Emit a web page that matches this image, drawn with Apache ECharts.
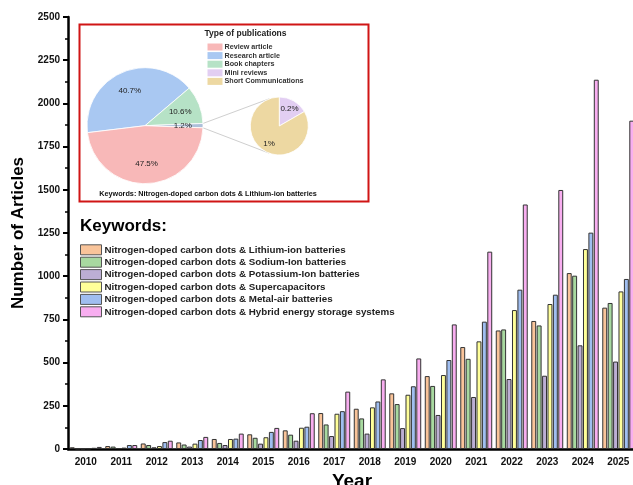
<!DOCTYPE html>
<html>
<head>
<meta charset="utf-8">
<script src="https://cdn.jsdelivr.net/npm/echarts@6/dist/echarts.min.js"></script>
<style>
html,body{margin:0;padding:0;background:#fff;}
#c{width:633px;height:485px;}
</style>
</head>
<body>
<div id="c"></div>
<script>
// ---- Data ----
var years = ['2010','2011','2012','2013','2014','2015','2016','2017','2018','2019','2020','2021','2022','2023','2024','2025'];
var seriesNames = [
  'Nitrogen-doped carbon dots & Lithium-ion batteries',
  'Nitrogen-doped carbon dots & Sodium-Ion batteries',
  'Nitrogen-doped carbon dots & Potassium-Ion batteries',
  'Nitrogen-doped carbon dots & Supercapacitors',
  'Nitrogen-doped carbon dots & Metal-air batteries',
  'Nitrogen-doped carbon dots & Hybrid energy storage systems'
];
var lithium   = [10, 17, 32, 38, 58, 85, 108, 208, 233, 322, 422, 590, 686, 741, 1018, 818];
var sodium    = [2, 14, 23, 26, 35, 65, 83, 142, 177, 260, 365, 522, 692, 715, 1003, 845];
var potassium = [1, 5, 10, 14, 23, 31, 48, 75, 89, 121, 197, 301, 405, 424, 600, 506];
var supercap  = [3, 8, 17, 31, 58, 68, 123, 204, 241, 314, 428, 623, 804, 839, 1157, 912];
var metalAir  = [7, 23, 40, 52, 60, 99, 129, 219, 275, 363, 515, 737, 922, 893, 1252, 984];
var hybrid    = [12, 23, 48, 70, 89, 122, 207, 332, 403, 524, 721, 1142, 1415, 1499, 2137, 1900];
var yTicks = [0, 250, 500, 750, 1000, 1250, 1500, 1750, 2000, 2250, 2500];

var pubTypes = ['Review article', 'Research article', 'Book chapters', 'Mini reviews', 'Short Communications'];
var pubShares = [47.5, 40.7, 10.6, 0.2, 1.0];
var otherShare = 1.2; // Mini reviews + Short Communications

// ---- Styles ----
var barColors = ['#F9C49A', '#A8D9A0', '#BCAED4', '#FFFF99', '#A0BEF0', '#F8AEF0'];
var pieColors = {
  'Review article': '#F8B8B8',
  'Research article': '#A9C8F2',
  'Book chapters': '#B6E2C6',
  'Mini reviews': '#E2CEF2',
  'Short Communications': '#EDD8A2'
};
var otherColor = '#ADC0DA';
var FONT = 'Liberation Sans, Arial, sans-serif';

var barData = [lithium, sodium, potassium, supercap, metalAir, hybrid];
var series = barData.map(function (d, i) {
  return {
    type: 'bar',
    name: seriesNames[i],
    data: d,
    barGap: '10%',
    barCategoryGap: '10%',
    itemStyle: { color: barColors[i], borderColor: '#333', borderWidth: 1 }
  };
});

// Pie layout
var bigC = [145, 125.7], bigR = 58;
var smallC = [279.3, 126], smallR = 29;
var bigStart = 186.9;

function share(n) { return pubShares[pubTypes.indexOf(n)]; }
var bigData = [
  { name: 'Research article', value: share('Research article'), itemStyle: { color: pieColors['Research article'] } },
  { name: 'Book chapters', value: share('Book chapters'), itemStyle: { color: pieColors['Book chapters'] } },
  { name: 'Other', value: otherShare, itemStyle: { color: otherColor } },
  { name: 'Review article', value: share('Review article'), itemStyle: { color: pieColors['Review article'] } }
];
var smallData = [
  { name: 'Mini reviews', value: share('Mini reviews'), itemStyle: { color: pieColors['Mini reviews'] } },
  { name: 'Short Communications', value: share('Short Communications'), itemStyle: { color: pieColors['Short Communications'] } }
];

series.push({
  type: 'pie', name: 'bigPie', center: bigC, radius: [0, bigR], startAngle: bigStart,
  data: bigData, label: { show: false }, labelLine: { show: false },
  itemStyle: { borderColor: '#fff', borderWidth: 0.8 }, silent: true, z: 5
});
series.push({
  type: 'pie', name: 'smallPie', center: smallC, radius: [0, smallR], startAngle: 90,
  data: smallData, label: { show: false }, labelLine: { show: false },
  itemStyle: { borderColor: '#fff', borderWidth: 0.8 }, silent: true, z: 5
});
// label-only pies (labels at 0.6 of radius)
function labelPie(c, r, start, data) {
  return {
    type: 'pie', center: c, radius: [0, r / 0.5 * 0.6], startAngle: start, silent: true, z: 6,
    data: data.map(function (d) { return { name: d.name + ' ', value: d.value }; }),
    itemStyle: { color: 'rgba(0,0,0,0)' },
    label: { show: true, position: 'inside', formatter: '{c}%', fontFamily: FONT, fontSize: 8, color: '#222' },
    labelLine: { show: false }, emphasis: { disabled: true }
  };
}
series.push(labelPie(bigC, bigR, bigStart, bigData));
series.push(labelPie(smallC, smallR, 90, smallData));

// connector lines (tangents from wedge edges to small pie)
var cum = (bigData[0].value + bigData[1].value) / 100 * 360;
var a1 = (bigStart - cum) * Math.PI / 180;
var a2 = (bigStart - cum - otherShare / 100 * 360) * Math.PI / 180;
function tangent(P, sign) {
  var dx = P[0] - smallC[0], dy = P[1] - smallC[1];
  var d = Math.sqrt(dx * dx + dy * dy);
  var base = Math.atan2(dy, dx), off = Math.acos(smallR / d);
  var a = base + sign * off;
  return [smallC[0] + smallR * Math.cos(a), smallC[1] + smallR * Math.sin(a)];
}
var P1 = [bigC[0] + bigR * Math.cos(a1), bigC[1] - bigR * Math.sin(a1)];
var P2 = [bigC[0] + bigR * Math.cos(a2), bigC[1] - bigR * Math.sin(a2)];
var T1 = tangent(P1, 1), T2 = tangent(P2, -1);

var option = {
  animation: false,
  backgroundColor: '#fff',
  grid: { left: 68, right: -3, top: 17, bottom: 36, containLabel: false, outerBoundsMode: 'none' },
  xAxis: {
    type: 'category', data: years,
    name: 'Year', nameLocation: 'middle', nameGap: 22,
    nameTextStyle: { fontFamily: FONT, fontSize: 19, fontWeight: 'bold', color: '#000' },
    axisLine: { lineStyle: { color: '#000', width: 2.5 } },
    axisTick: { alignWithLabel: true, length: 5, lineStyle: { color: '#000', width: 2 } },
    axisLabel: { fontFamily: FONT, fontSize: 10, fontWeight: 'bold', color: '#111', margin: 8 }
  },
  yAxis: {
    type: 'value', min: yTicks[0], max: yTicks[yTicks.length - 1], interval: yTicks[1] - yTicks[0],
    name: 'Number of Articles', nameLocation: 'middle', nameGap: 40,
    nameTextStyle: { fontFamily: FONT, fontSize: 17, fontWeight: 'bold', color: '#000' },
    axisLine: { show: true, lineStyle: { color: '#000', width: 2.5 } },
    axisTick: { show: true, length: 5, lineStyle: { color: '#000', width: 2 } },
    minorTick: { show: true, splitNumber: 2, length: 3, lineStyle: { color: '#000', width: 1.5 } },
    splitLine: { show: false },
    axisLabel: { fontFamily: FONT, fontSize: 10, fontWeight: 'bold', color: '#111', margin: 8,
      formatter: function (v) { return String(v); } }
  },
  legend: [
    {
      data: seriesNames, orient: 'vertical', left: 75, top: 239.3,
      itemWidth: 21, itemHeight: 10, itemGap: 1.4, icon: 'rect',
      itemStyle: { borderColor: '#555', borderWidth: 1 },
      textStyle: { fontFamily: FONT, fontSize: 9.8, fontWeight: 'bold', color: '#222', lineHeight: 10, padding: [0, 0, 0, -2] },
      selectedMode: false
    },
    {
      data: pubTypes, orient: 'vertical', left: 202.5, top: 38.5,
      itemWidth: 15, itemHeight: 7, itemGap: 1.6, icon: 'rect',
      itemStyle: { borderWidth: 0 },
      textStyle: { fontFamily: FONT, fontSize: 7.2, fontWeight: 'bold', color: '#333', lineHeight: 7, padding: [0, 0, 0, -3] },
      selectedMode: false
    }
  ],
  graphic: [
    { type: 'rect', z: 0, shape: { x: 79.5, y: 24.5, width: 289, height: 177 },
      style: { fill: '#fff', stroke: '#D01515', lineWidth: 2 } },
    { type: 'line', z: 4, shape: { x1: P1[0], y1: P1[1], x2: T1[0], y2: T1[1] }, style: { stroke: '#cfcfcf', lineWidth: 1 } },
    { type: 'line', z: 4, shape: { x1: P2[0], y1: P2[1], x2: T2[0], y2: T2[1] }, style: { stroke: '#cfcfcf', lineWidth: 1 } },
    { type: 'text', z: 10, x: 245.5, y: 33.3,
      style: { text: 'Type of publications', fontFamily: FONT, fontSize: 8.5, fontWeight: 'bold', fill: '#222', textAlign: 'center', textVerticalAlign: 'middle' } },
    { type: 'text', z: 10, x: 208, y: 194,
      style: { text: 'Keywords: Nitrogen-doped carbon dots & Lithium-ion batteries', fontFamily: FONT, fontSize: 7.25, fontWeight: 'bold', fill: '#111', textAlign: 'center', textVerticalAlign: 'middle' } },
    { type: 'text', z: 10, x: 80, y: 226,
      style: { text: 'Keywords:', fontFamily: FONT, fontSize: 17, fontWeight: 'bold', fill: '#000', textAlign: 'left', textVerticalAlign: 'middle' } }
  ],
  series: series
};

var chart = echarts.init(document.getElementById('c'), null, { renderer: 'canvas' });
chart.setOption(option);
</script>
</body>
</html>
